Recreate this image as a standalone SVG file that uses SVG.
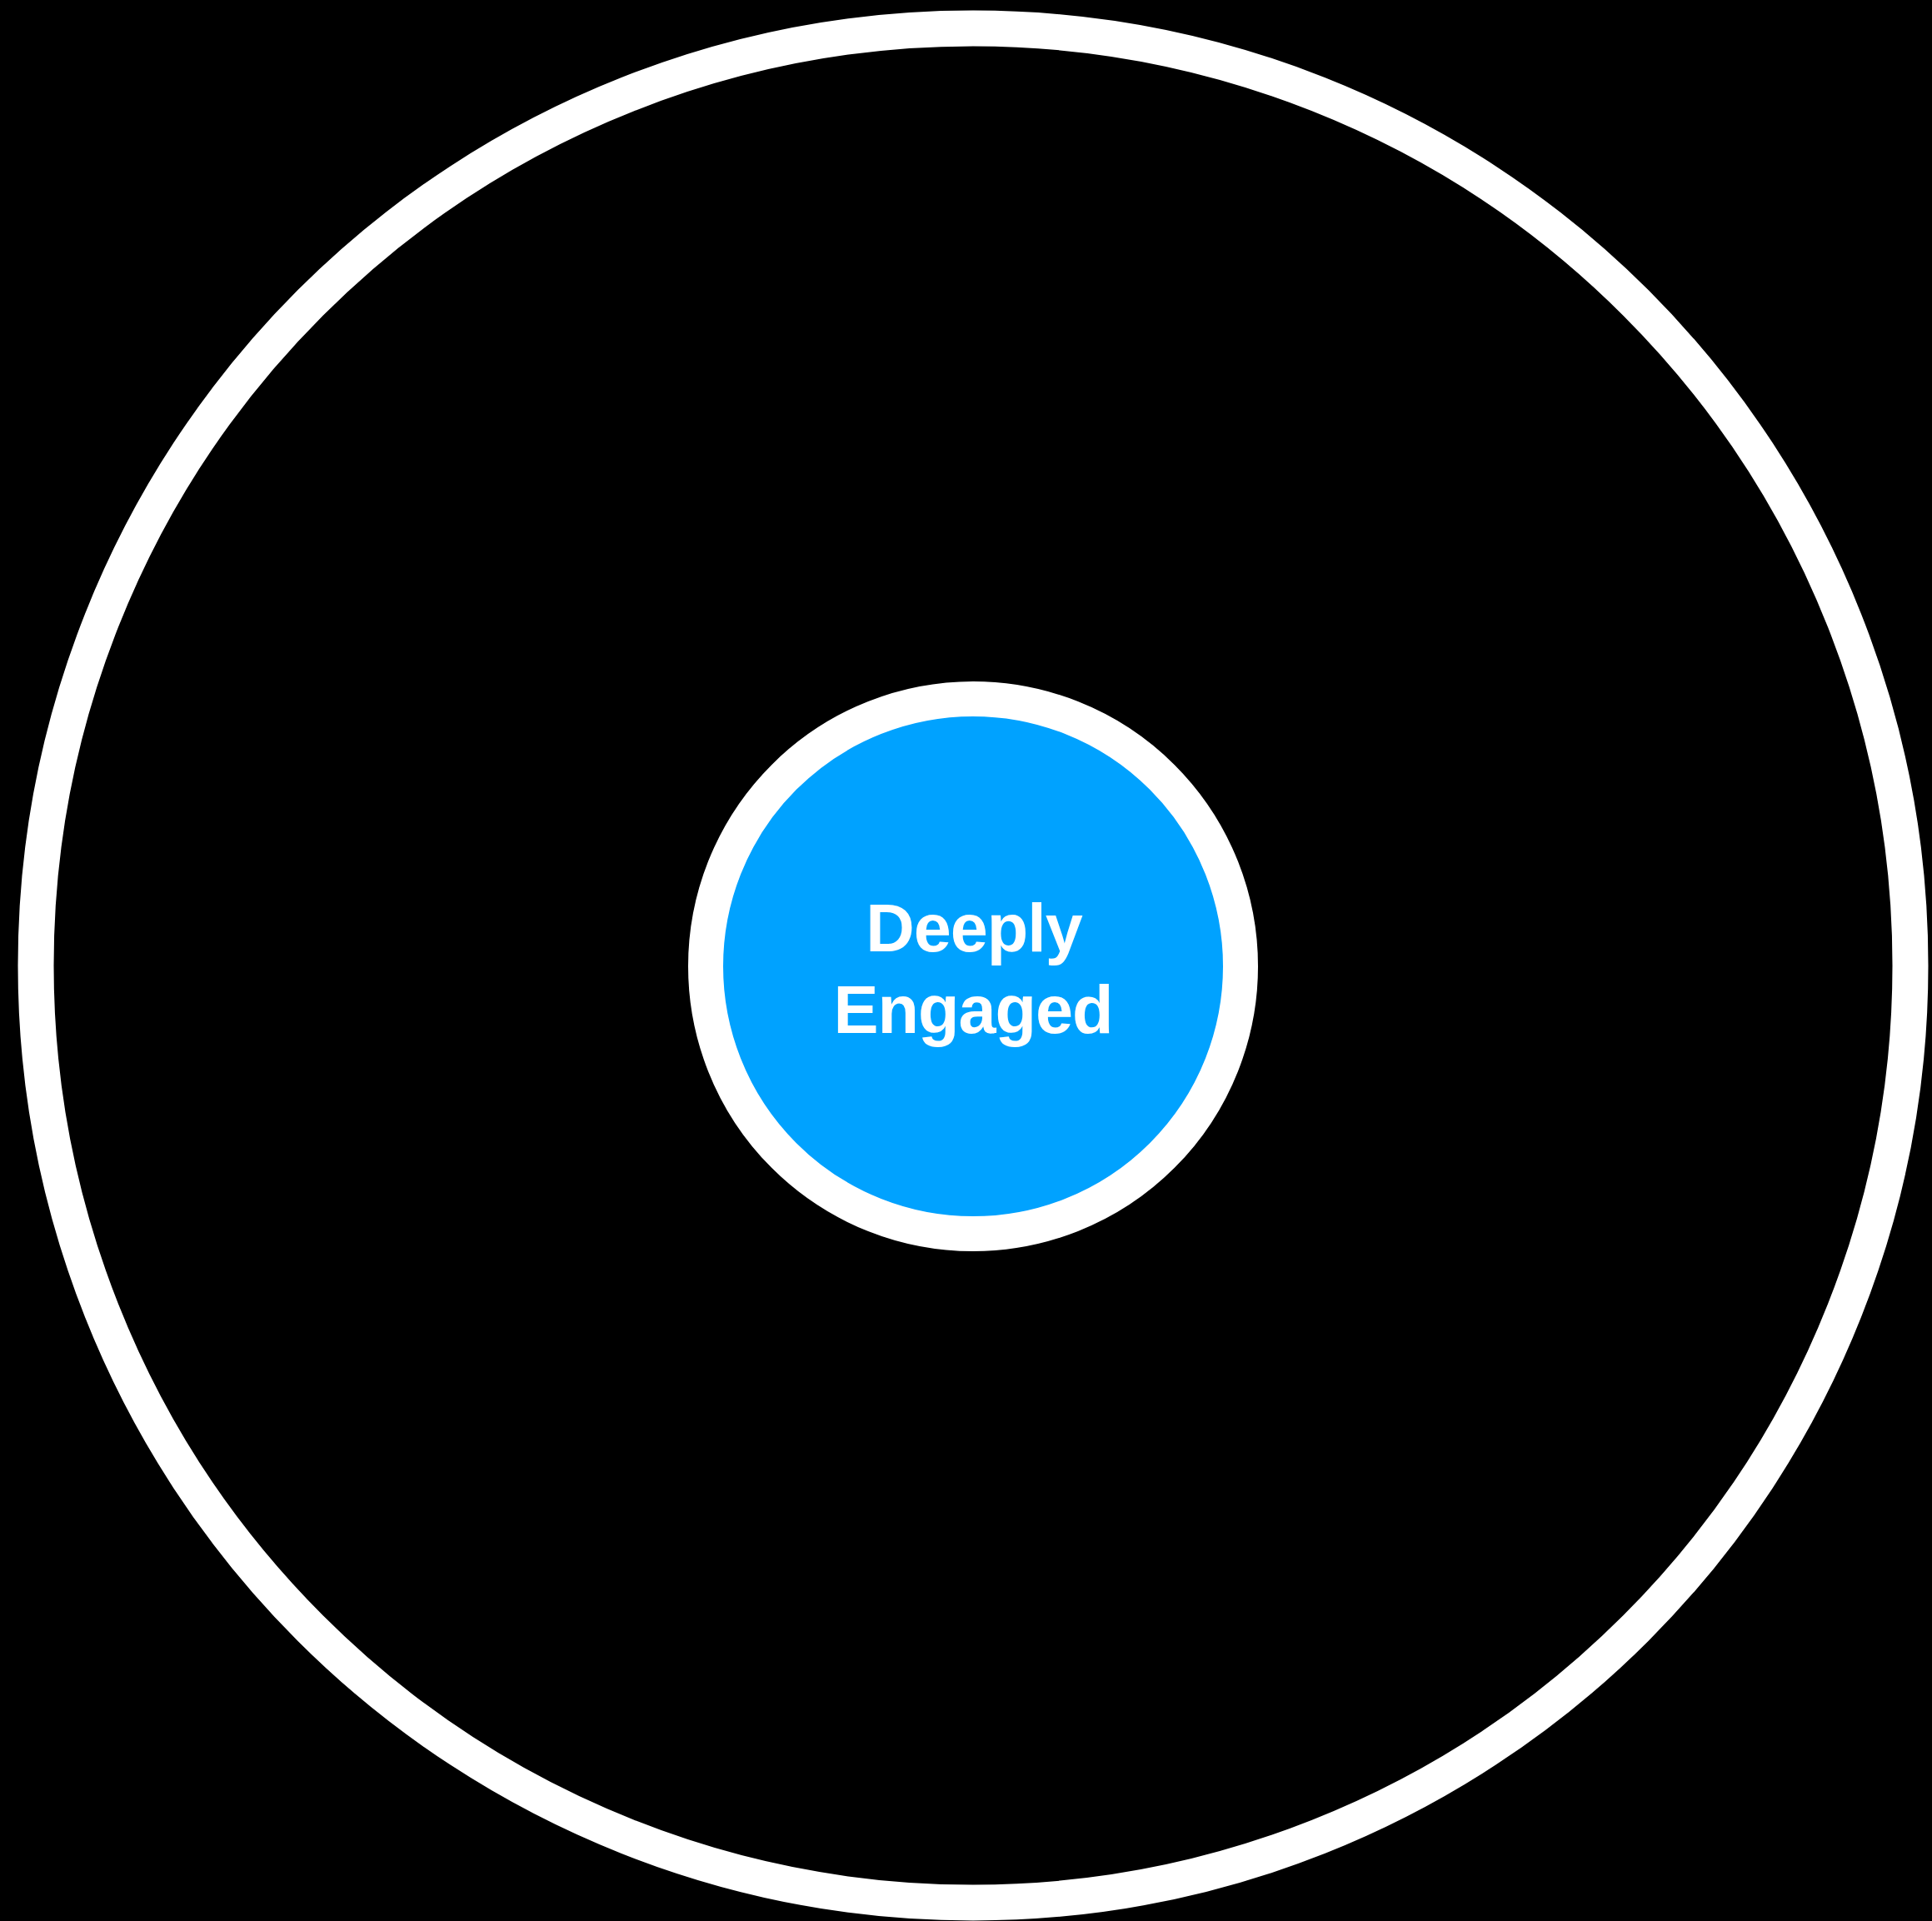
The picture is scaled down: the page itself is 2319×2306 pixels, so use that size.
<svg xmlns="http://www.w3.org/2000/svg" width="2319" height="2306" viewBox="0 0 2319 2306">
<style>
.ring{fill:none;stroke:#FFFFFF;stroke-width:43}
.lbl{font-family:"Liberation Sans",Arial,sans-serif;font-weight:bold;font-size:81px;fill:#FFFFFF;text-anchor:middle;letter-spacing:-1px}
</style>
<rect x="0" y="0" width="2319" height="2306" fill="#000000"/>
<g id="outer-ring">
<circle class="ring" cx="1168" cy="1159" r="1125"/>
</g>
<g id="deeply-engaged">
<circle cx="1168" cy="1160" r="321" fill="#00A2FF" stroke="#FFFFFF" stroke-width="42"/>
<text class="lbl" x="1169" y="1142">Deeply</text>
<text class="lbl" x="1168" y="1240">Engaged</text>
</g>
<g id="connectors"></g>
</svg>
